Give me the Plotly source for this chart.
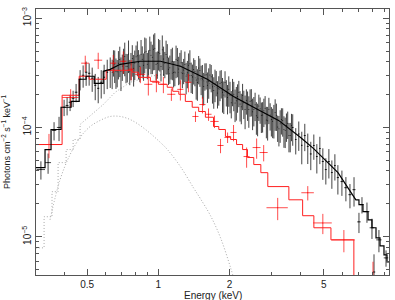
import plotly.graph_objects as go

# ---------------- data ----------------
# black (instrument 1) spectrum, energies in keV, flux in 1e-4 photons cm^-2 s^-1 keV^-1
blk_E = [0.319, 0.342, 0.3625, 0.3805, 0.3997, 0.4115, 0.4237, 0.4363, 0.4492, 0.467,
         0.481, 0.4953, 0.510, 0.5253, 0.541, 0.557, 0.5735, 0.590, 0.608, 0.626,
         0.638, 0.654, 0.670, 0.687, 0.704, 0.721, 0.739, 0.757, 0.776, 0.795,
         0.815, 0.835, 0.855, 0.876, 0.898, 0.920, 0.943, 0.966, 0.990, 1.014,
         1.039, 1.065, 1.091, 1.118, 1.146, 1.174, 1.203, 1.233, 1.263, 1.294,
         1.326, 1.359, 1.393, 1.427, 1.462, 1.498, 1.535, 1.573, 1.612, 1.652,
         1.693, 1.735, 1.778, 1.822, 1.867, 1.913, 1.960, 2.008, 2.058, 2.109,
         2.161, 2.214, 2.269, 2.325, 2.382, 2.441, 2.501, 2.563, 2.626, 2.691,
         2.757, 2.825, 2.895, 2.967, 3.040, 3.115, 3.192, 3.271, 3.352, 3.435,
         3.520, 3.607, 3.696, 3.806, 3.920, 4.036, 4.156, 4.279, 4.406, 4.538,
         4.673, 4.812, 4.954, 5.101, 5.253, 5.409, 5.570, 5.735, 5.964, 6.20,
         6.45, 6.71, 7.04, 7.25, 7.61, 7.99, 8.15, 8.55, 9.16,
         0.646, 0.662, 0.678, 0.695, 0.713, 0.730, 0.748, 0.766, 0.786, 0.805,
         0.825, 0.845, 0.866, 0.887, 0.909, 0.931, 0.955, 0.978, 1.002, 1.026,
         1.052, 1.078, 1.104, 1.132, 1.160, 1.188, 1.218, 1.248, 1.279, 1.310,
         1.342, 1.376, 1.410, 1.445, 1.480, 1.516, 1.554, 1.592, 1.632, 1.672,
         1.714, 1.756, 1.800, 1.844, 1.890, 1.937, 1.984, 2.033, 2.083, 2.135,
         2.188, 2.241, 2.297, 2.354, 2.411, 2.471, 2.532, 2.595, 2.658, 2.724,
         2.791, 2.860, 2.931, 3.003, 3.077, 3.153, 3.231, 3.311, 3.393, 3.477,
         3.563, 3.651]
blk_F = [0.412, 0.477, 0.939, 1.00, 1.53, 1.59, 1.70, 1.85, 2.10, 2.76,
         3.00, 3.20, 3.13, 2.82, 2.43, 2.28, 2.59, 2.88, 3.20, 3.33,
         3.20, 3.80, 3.23, 4.18, 3.65, 4.45, 3.63, 3.29, 4.28, 3.88,
         4.53, 3.62, 4.21, 4.88, 3.78, 5.09, 4.39, 5.31, 3.87, 4.77,
         5.14, 3.86, 4.41, 3.52, 4.03, 3.22, 4.10, 3.64, 3.13, 3.77,
         3.17, 3.82, 2.89, 3.26, 2.58, 3.31, 2.78, 3.01, 2.43, 3.02,
         2.36, 2.54, 2.07, 2.52, 2.10, 2.57, 1.88, 1.98, 2.17, 1.67,
         1.92, 1.64, 1.97, 1.46, 1.64, 1.74, 1.39, 1.61, 1.24, 1.48,
         1.30, 1.50, 1.15, 1.30, 1.14, 1.37, 1.01, 1.08, 1.16, 0.939,
         1.09, 0.846, 1.00, 0.776, 0.872, 0.687, 0.843, 0.671, 0.573, 0.684,
         0.542, 0.642, 0.488, 0.412, 0.488, 0.387, 0.448, 0.348, 0.320, 0.2815,
         0.243, 0.270, 0.137, 0.197, 0.170, 0.121, 0.0477, 0.0938, 0.0642,
         4.00, 3.26, 3.87, 3.26, 4.16, 3.62, 4.69, 3.75, 3.48, 4.42,
         3.92, 4.67, 3.71, 4.98, 4.03, 4.58, 5.20, 3.78, 4.88, 3.61,
         4.22, 4.64, 3.40, 3.97, 3.18, 4.21, 3.43, 3.91, 3.36, 2.95,
         3.71, 2.99, 3.38, 2.72, 3.49, 2.82, 2.37, 3.04, 2.65, 2.91,
         2.18, 2.60, 2.26, 2.59, 1.98, 2.13, 2.24, 1.68, 2.01, 1.75,
         2.10, 1.55, 1.68, 1.77, 1.46, 1.75, 1.46, 1.28, 1.57, 1.29,
         1.42, 1.17, 1.47, 1.18, 1.20, 1.29, 0.972, 1.18, 0.958, 1.04,
         0.846, 1.04]
blk_rel = [0.19, 0.21, 0.19, 0.25, 0.17, 0.19, 0.17, 0.17, 0.19, 0.21,
           0.23, 0.25, 0.23, 0.25, 0.27, 0.27, 0.29, 0.30, 0.30, 0.31,
           0.30, 0.33, 0.28, 0.31, 0.27, 0.34, 0.29, 0.26, 0.32, 0.30,
           0.35, 0.28, 0.31, 0.36, 0.27, 0.33, 0.30, 0.37, 0.28, 0.32,
           0.35, 0.27, 0.31, 0.29, 0.33, 0.26, 0.30, 0.32, 0.27, 0.31,
           0.28, 0.33, 0.30, 0.27, 0.32, 0.29, 0.34, 0.28, 0.31, 0.26,
           0.30, 0.33, 0.28, 0.31, 0.35, 0.27, 0.30, 0.32, 0.28, 0.33,
           0.29, 0.31, 0.27, 0.34, 0.30, 0.28, 0.32, 0.29, 0.33, 0.27,
           0.31, 0.29, 0.34, 0.28, 0.30, 0.32, 0.27, 0.33, 0.29, 0.31,
           0.28, 0.30, 0.32, 0.27, 0.30, 0.33, 0.28, 0.31, 0.29, 0.26,
           0.30, 0.28, 0.32, 0.27, 0.30, 0.29, 0.27, 0.30, 0.26, 0.25,
           0.25, 0.30, 0.21, 0.17, 0.21, 0.21, 0.45, 0.23, 0.17,
           0.27, 0.31, 0.29, 0.34, 0.26, 0.30, 0.33, 0.28, 0.32, 0.27,
           0.30, 0.35, 0.28, 0.31, 0.26, 0.33, 0.36, 0.29, 0.32, 0.27,
           0.30, 0.34, 0.28, 0.31, 0.27, 0.33, 0.29, 0.30, 0.26, 0.32,
           0.28, 0.31, 0.27, 0.34, 0.29, 0.30, 0.33, 0.27, 0.31, 0.28,
           0.32, 0.26, 0.30, 0.29, 0.33, 0.27, 0.31, 0.28, 0.30, 0.34,
           0.27, 0.31, 0.29, 0.26, 0.32, 0.28, 0.30, 0.33, 0.27, 0.31,
           0.29, 0.32, 0.27, 0.30, 0.34, 0.28, 0.31, 0.27, 0.32, 0.29,
           0.30, 0.28]
blk_dE = [0.013, 0.010, 0.008, 0.008, 0.006, 0.006, 0.006, 0.006, 0.006, 0.006,
          0.006, 0.006, 0.006, 0.006, 0.006, 0.006, 0.006, 0.006, 0.006, 0.006] + [0.0] * 72 + \
         [0.03, 0.03, 0.03, 0.03, 0.04, 0.04, 0.04, 0.04,
          0.04, 0.04, 0.05, 0.05, 0.05, 0.05, 0.05, 0.06, 0.08, 0.10,
          0.10, 0.10, 0.12, 0.12, 0.18, 0.18, 0.10, 0.22, 0.20] + [0.0] * 72

# black model (folded total model)
bmod_E = [0.304, 0.332, 0.332, 0.352, 0.352, 0.388, 0.388, 0.428, 0.428, 0.463,
          0.463, 0.495, 0.495, 0.536, 0.536, 0.585, 0.585, 0.626, 0.690, 0.839,
          1.02, 1.24, 1.61, 2.08, 2.63, 3.22, 3.99, 4.53, 5.74, 6.83,
          7.04, 7.04, 7.32, 7.32, 7.69, 7.69, 7.99, 7.99, 8.31, 8.31,
          8.64, 8.64, 8.98, 8.98, 9.25, 9.25, 9.6]
bmod_F = [0.430, 0.430, 0.628, 0.628, 0.958, 0.958, 1.53, 1.53, 1.73, 1.73,
          2.76, 2.76, 2.94, 2.94, 2.53, 2.53, 3.26, 3.40, 3.78, 4.03,
          4.03, 3.63, 2.76, 1.92, 1.46, 1.16, 0.81, 0.64, 0.386, 0.218,
          0.218, 0.197, 0.197, 0.170, 0.170, 0.143, 0.143, 0.121, 0.121, 0.098,
          0.098, 0.0827, 0.0827, 0.0684, 0.0684, 0.059, 0.059]

# red (instrument 2) spectrum
red_E = [0.345, 0.426, 0.491, 0.557, 0.645, 0.711, 0.768, 0.839, 0.907, 0.981,
         1.050, 1.135, 1.239, 1.340, 1.435, 1.536, 1.629, 1.727, 1.831, 1.961,
         2.078, 2.360, 2.602, 2.786, 3.193, 4.279, 4.954, 6.08, 8.07]
red_F = [0.698, 1.88, 3.87, 4.12, 3.87, 4.03, 3.41, 3.06, 2.48, 2.59,
         2.48, 2.01, 2.23, 2.59, 1.26, 1.62, 1.32, 1.135, 0.684, 0.81,
         0.90, 0.542, 0.655, 0.590, 0.1845, 0.253, 0.134, 0.0938, 0.0363]
red_rel = [0.25, 0.19, 0.17, 0.17, 0.19, 0.23, 0.21, 0.17, 0.21, 0.19,
           0.17, 0.13, 0.21, 0.19, 0.11, 0.17, 0.13, 0.13, 0.15, 0.11,
           0.17, 0.21, 0.21, 0.17, 0.23, 0.15, 0.21, 0.23, 0.63]
red_dE = [0.044, 0.034, 0.019, 0.022, 0.019, 0.021, 0.023, 0.041, 0.036, 0.039,
          0.031, 0.045, 0.037, 0.040, 0.043, 0.046, 0.049, 0.070, 0.055, 0.059,
          0.062, 0.070, 0.10, 0.11, 0.33, 0.26, 0.45, 0.69, 0.40]

# red model (histogram steps: left bin edges and values)
rmod_E = [0.304, 0.392, 0.463, 0.510, 0.602, 0.776, 0.823, 0.925, 1.0, 1.09,
          1.15, 1.22, 1.30, 1.39, 1.48, 1.58, 1.71, 1.80, 1.92, 2.02,
          2.14, 2.27, 2.38, 2.53, 2.71, 2.90, 3.56, 4.07, 4.54, 5.36, 6.70]
rmod_F = [0.698, 1.97, 2.94, 2.76, 3.33, 3.20, 2.87, 2.64, 2.48, 2.33,
          2.14, 2.01, 1.73, 1.53, 1.40, 1.24, 1.02, 0.958, 0.827, 0.776,
          0.698, 0.628, 0.531, 0.458, 0.386, 0.288, 0.218, 0.156, 0.121, 0.0938, 0.02]

# model components (gray dotted)
soft_E = [0.3486, 0.3843, 0.4237, 0.467, 0.515, 0.568, 0.626, 0.690, 0.761, 0.839,
          0.925, 1.02, 1.092, 1.239, 1.407, 1.506, 1.661, 1.831, 2.02, 2.12]
soft_F = [0.143, 0.333, 0.565, 0.81, 1.02, 1.16, 1.26, 1.26, 1.18, 1.04,
          0.881, 0.729, 0.628, 0.439, 0.281, 0.223, 0.156, 0.098, 0.052, 0.0363]
hard_E = [0.304, 0.329, 0.329, 0.3554, 0.3554, 0.377, 0.377, 0.4076, 0.4076, 0.4363,
          0.4363, 0.467, 0.467, 0.505, 0.541, 0.585, 0.657, 0.761, 0.925, 1.239,
          1.61, 2.08, 2.63, 3.22, 3.99, 4.53, 5.74, 6.83]
hard_F = [0.0793, 0.0793, 0.1527, 0.1527, 0.2587, 0.2587, 0.477, 0.477, 0.628, 0.628,
          0.776, 0.776, 1.065, 1.24, 1.40, 1.62, 2.10, 2.59, 2.94, 3.20,
          2.59, 1.88, 1.46, 1.16, 0.81, 0.64, 0.386, 0.218]

SCALE = 1e-4
x_ticks = [0.5, 1, 2, 5]
x_ticktext = ["0.5", "1", "2", "5"]
x_minor = [0.4, 0.6, 0.7, 0.8, 0.9, 3, 4, 6, 7, 8, 9]
y_ticks = [1e-5, 1e-4, 1e-3]
y_ticktext = ["10<sup>\u22125</sup>", "10<sup>\u22124</sup>", "10<sup>\u22123</sup>"]
y_minor = [m * 10.0 ** e for e in (-6, -5, -4, -3) for m in range(2, 10)]


def sc(v):
    return [a * SCALE for a in v]


fig = go.Figure()

comp_line = dict(color="#a8a8a8", width=1, dash="1px,2px")
fig.add_trace(go.Scatter(x=hard_E, y=sc(hard_F), mode="lines", line=comp_line, hoverinfo="skip"))
fig.add_trace(go.Scatter(x=soft_E, y=sc(soft_F), mode="lines", line_shape="spline",
                         line=comp_line, hoverinfo="skip"))

# black data
fig.add_trace(go.Scatter(
    x=blk_E, y=sc(blk_F), mode="markers",
    marker=dict(size=1, color="rgba(0,0,0,0.8)"),
    error_y=dict(type="data", array=[f * r * SCALE for f, r in zip(blk_F, blk_rel)],
                 color="rgba(0,0,0,0.74)", thickness=1, width=0),
    error_x=dict(type="data", array=blk_dE, color="rgba(0,0,0,0.74)", thickness=1, width=0),
    hoverinfo="skip"))

# red data
fig.add_trace(go.Scatter(
    x=red_E, y=sc(red_F), mode="markers",
    marker=dict(size=1, color="rgba(255,0,0,0.8)"),
    error_y=dict(type="data", array=[f * r * SCALE for f, r in zip(red_F, red_rel)],
                 color="rgba(255,0,0,0.7)", thickness=1, width=0),
    error_x=dict(type="data", array=red_dE, color="rgba(255,0,0,0.7)", thickness=1, width=0),
    hoverinfo="skip"))

# models
fig.add_trace(go.Scatter(x=rmod_E, y=sc(rmod_F), mode="lines", line_shape="hv",
                         line=dict(color="#ff2020", width=1), hoverinfo="skip"))
fig.add_trace(go.Scatter(x=bmod_E, y=sc(bmod_F), mode="lines",
                         line=dict(color="#000000", width=1.2), hoverinfo="skip"))

axis_col = "#555555"
fig.update_layout(
    width=395, height=300,
    margin=dict(l=36, r=6, t=9, b=25),
    paper_bgcolor="white", plot_bgcolor="white",
    showlegend=False,
    hovermode=False,
    font=dict(family="Liberation Sans, Arial, sans-serif", size=10, color="#222"),
    xaxis=dict(type="log", range=[-0.517, 0.9745], automargin=False,
               tickmode="array", tickvals=x_ticks, ticktext=x_ticktext,
               ticks="inside", ticklen=6, tickcolor=axis_col, tickwidth=1,
               showline=True, linecolor=axis_col, linewidth=1, mirror="ticks",
               showgrid=False, zeroline=False,
               minor=dict(tickmode="array", tickvals=x_minor, ticks="inside", ticklen=3,
                          tickcolor=axis_col, showgrid=False)),
    yaxis=dict(type="log", range=[-5.349, -2.917], automargin=False,
               tickmode="array", tickvals=y_ticks, ticktext=y_ticktext, tickangle=-90,
               ticks="inside", ticklen=6, tickcolor=axis_col, tickwidth=1,
               showline=True, linecolor=axis_col, linewidth=1, mirror="ticks",
               showgrid=False, zeroline=False,
               minor=dict(tickmode="array", tickvals=y_minor, ticks="inside", ticklen=3,
                          tickcolor=axis_col, showgrid=False)),
    annotations=[
        dict(text="Energy (keV)", xref="paper", yref="paper", x=0.5, y=0,
             xanchor="center", yanchor="top", yshift=-13, showarrow=False,
             font=dict(size=10)),
        dict(text="Photons cm<sup>\u22122</sup> s<sup>\u22121</sup> keV<sup>\u22121</sup>",
             xref="paper", yref="paper", x=0, y=0.5, xanchor="right", yanchor="middle",
             xshift=-22, textangle=-90, showarrow=False, font=dict(size=9)),
    ],
)

fig.write_html("out.html", config={"displayModeBar": False, "staticPlot": True},
               post_script="document.body.style.margin='0';document.body.style.padding='0';")
